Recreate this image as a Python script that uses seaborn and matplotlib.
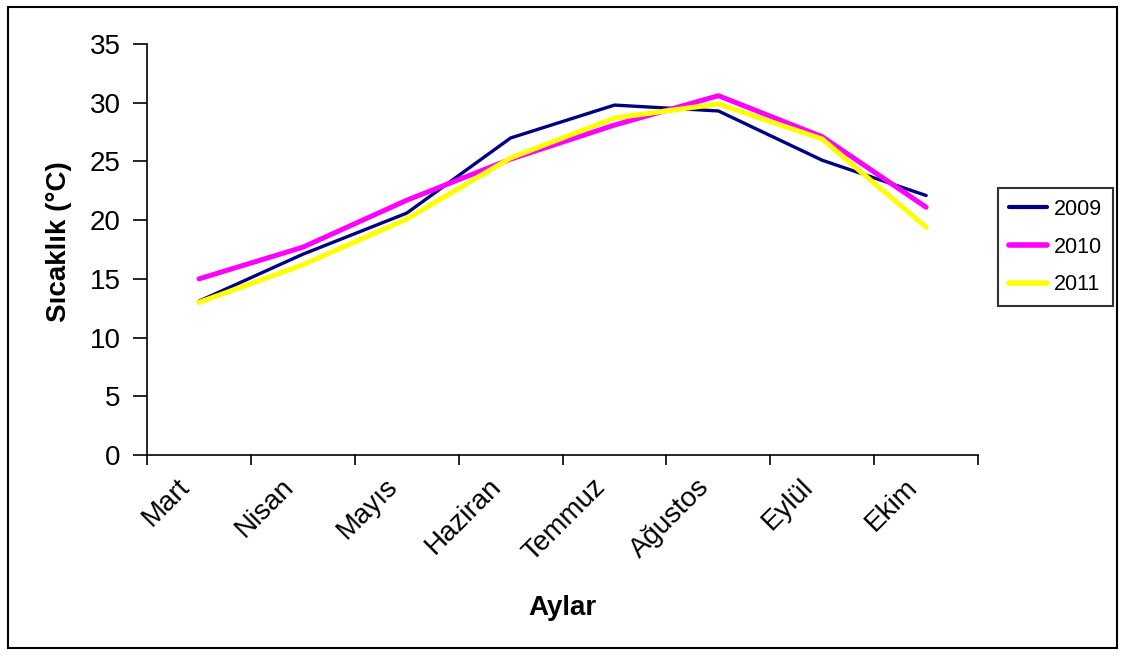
import numpy as np
import pandas as pd
import matplotlib
matplotlib.use("Agg")
import matplotlib.pyplot as plt
import matplotlib.transforms as mtransforms
import seaborn as sns
from matplotlib.patches import Rectangle

months = ["Mart", "Nisan", "Mayıs", "Haziran", "Temmuz", "Ağustos", "Eylül", "Ekim"]
y2009 = [13.1, 17.1, 20.6, 27.0, 29.8, 29.3, 25.1, 22.1]
y2010 = [15.0, 17.7, 21.7, 25.2, 28.1, 30.6, 27.1, 21.1]
y2011 = [13.0, 16.2, 20.1, 25.3, 28.7, 29.9, 26.9, 19.4]
years = ["2009", "2010", "2011"]
colors = ["#000080", "#FF00FF", "#FFFF00"]
widths = [2.4, 3.6, 3.6]
yticks = [0, 5, 10, 15, 20, 25, 30, 35]

sns.set_style("white")
plt.rcParams["font.family"] = ["Liberation Sans", "DejaVu Sans"]
plt.rcParams["text.color"] = "black"
plt.rcParams["axes.labelcolor"] = "black"
plt.rcParams["xtick.color"] = "black"
plt.rcParams["ytick.color"] = "black"

fig = plt.figure(figsize=(11.25, 6.55), dpi=100)
ax = fig.add_axes([0.1307, 0.3053, 0.7387, 0.6275])

for yr, vals, c, lw in zip(years, [y2009, y2010, y2011], colors, widths):
    df = pd.DataFrame({"Ay": months, "T": vals})
    sns.lineplot(data=df, x="Ay", y="T", sort=False, color=c, linewidth=lw,
                 label=yr, ax=ax)

ax.set_xlim(-0.5, len(months) - 0.5)
ax.set_ylim(0, 35)
ax.set_yticks(yticks)
ax.set_yticklabels([str(t) for t in yticks], fontsize=20, color="black")
ax.set_xticks(range(len(months)))
ax.set_xticklabels(months, fontsize=20, rotation=45, ha="right",
                   rotation_mode="anchor", color="black")
ax.set_xticks(np.arange(-0.5, len(months), 1), minor=True)
ax.tick_params(axis="x", which="major", length=0, pad=12)
ax.tick_params(axis="x", which="minor", length=7, width=1.2, color="black",
               direction="out", bottom=True)
ax.tick_params(axis="y", which="major", length=10, width=1.2, color="black",
               direction="out", left=True, pad=9)

offset = mtransforms.ScaledTranslation(-22 / 100, -2 / 100, fig.dpi_scale_trans)
for lbl in ax.get_xticklabels():
    lbl.set_transform(lbl.get_transform() + offset)

for s in ["top", "right"]:
    ax.spines[s].set_visible(False)
for s in ["left", "bottom"]:
    ax.spines[s].set_color("black")
    ax.spines[s].set_linewidth(1.2)

ax.set_xlabel("Aylar", fontsize=20, fontweight="bold", color="black")
ax.set_ylabel("Sıcaklık (°C)", fontsize=20, fontweight="bold", color="black")
ax.xaxis.set_label_coords(0.5, -0.34)
ax.yaxis.set_label_coords(-0.09, 0.52)

leg = ax.legend(loc="upper left", bbox_to_anchor=(0.887, 0.713),
                bbox_transform=fig.transFigure, fontsize=15.5, frameon=True,
                fancybox=False, edgecolor="black", handlelength=1.8,
                labelspacing=0.78, borderpad=0.5, handletextpad=0.3,
                borderaxespad=0)
leg.get_frame().set_linewidth(1.5)
for h, lw in zip(leg.get_lines(), [3, 4, 4]):
    h.set_linewidth(lw)
for t in leg.get_texts():
    t.set_color("black")

fig.patches.append(Rectangle((0.007, 0.011), 0.986, 0.978, transform=fig.transFigure,
                             fill=False, edgecolor="black", linewidth=1.5))

fig.savefig("out.png", dpi=100)
